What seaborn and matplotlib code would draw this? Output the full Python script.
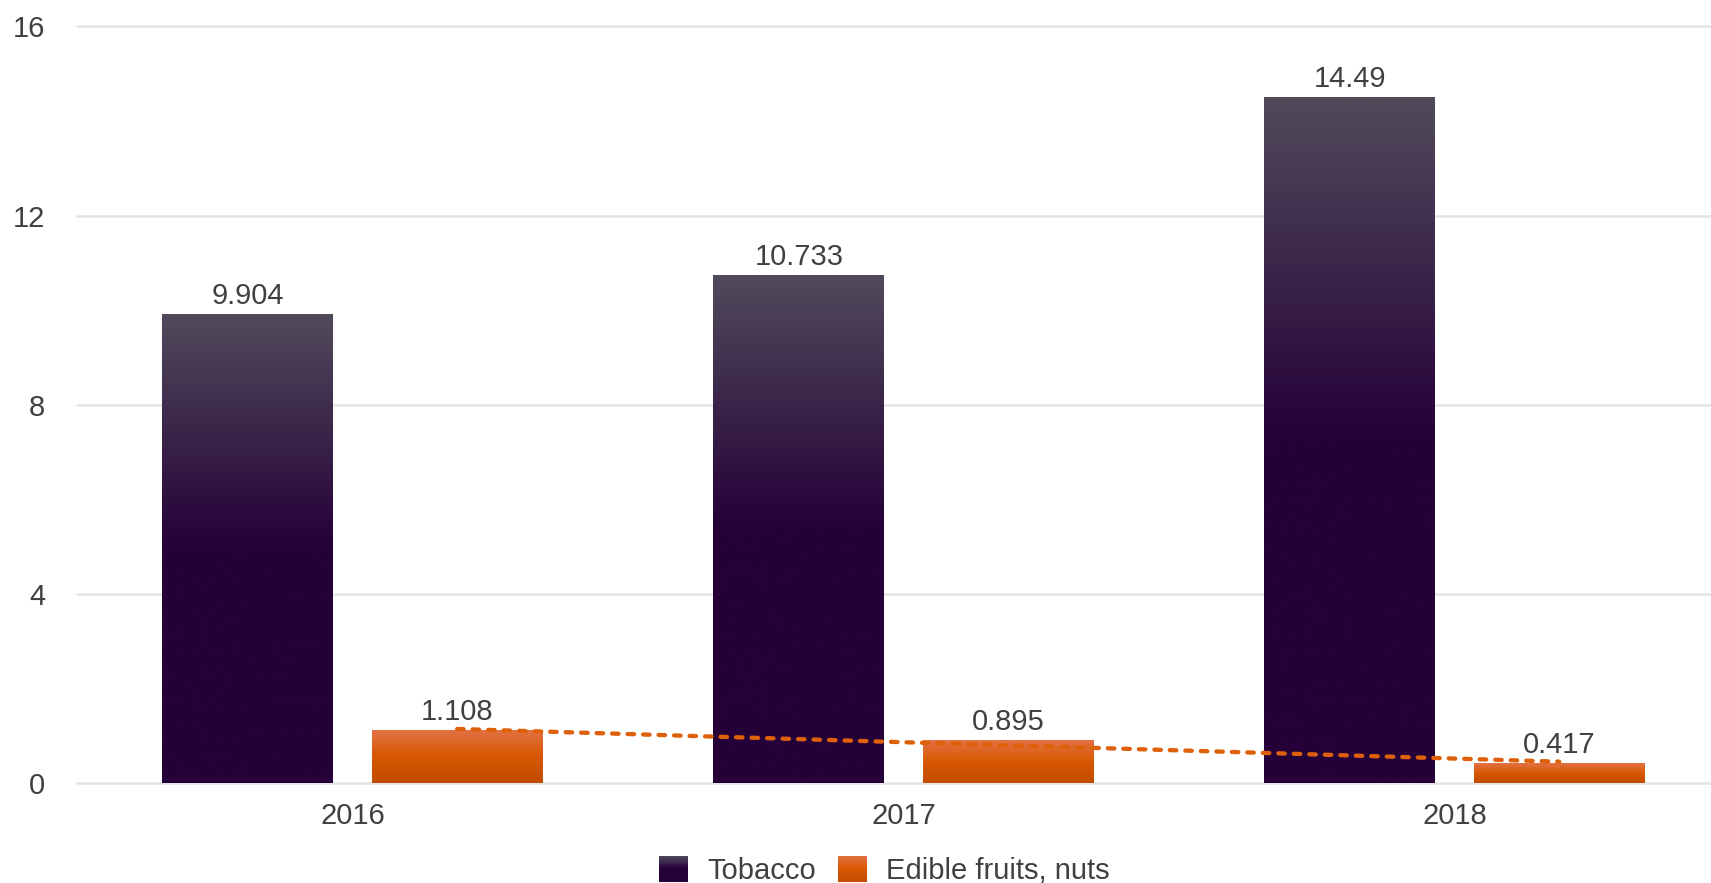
import numpy as np
import pandas as pd
import matplotlib
matplotlib.use("Agg")
import matplotlib.pyplot as plt
import seaborn as sns
from matplotlib.colors import LinearSegmentedColormap
from matplotlib.patches import Rectangle, Patch
from matplotlib.legend_handler import HandlerBase

years = ["2016", "2017", "2018"]
series_names = ["Tobacco", "Edible fruits, nuts"]
tobacco = [9.904, 10.733, 14.49]
edible_fruits = [1.108, 0.895, 0.417]
y_ticks = [0, 4, 8, 12, 16]

# vertical gradients, position 0 = top of the bar, 1 = bottom
tobacco_cmap = LinearSegmentedColormap.from_list(
    "tobacco", [(0.0, "#514a5b"), (0.5, "#250039"), (1.0, "#250039")])
fruit_cmap = LinearSegmentedColormap.from_list(
    "fruit", [(0.0, "#e27245"), (0.5, "#d85800"), (1.0, "#c14c00")])
base_colors = ["#250039", "#d85800"]
trend_color = "#de600a"
text_color = "#404040"
grid_color = "#e4e4e4"

sns.set_theme(style="white")
plt.rcParams["font.family"] = ["Liberation Sans", "DejaVu Sans"]

df = pd.DataFrame({
    "year": years * 2,
    "series": [series_names[0]] * 3 + [series_names[1]] * 3,
    "value": tobacco + edible_fruits,
})

fig = plt.figure(figsize=(17.11, 8.83), dpi=100)
ax = fig.add_axes([0.045, 0.1127, 0.9661, 0.8573])

sns.barplot(data=df, x="year", y="value", hue="series", palette=base_colors,
            width=0.76, dodge=True, saturation=1, legend=False, ax=ax,
            errorbar=None)

bar_width = 0.31
cmaps = [tobacco_cmap, fruit_cmap]
grad = [c(np.linspace(0, 1, 256))[:, None, :] for c in cmaps]
fruit_centers = []
for k, (container, vals) in enumerate(zip(ax.containers, [tobacco, edible_fruits])):
    for bar in container:
        cx = bar.get_x() + bar.get_width() / 2
        bar.set_x(cx - bar_width / 2)
        bar.set_width(bar_width)
        bar.set_facecolor("none")
        bar.set_edgecolor("none")
        h = bar.get_height()
        ax.imshow(grad[k], extent=[cx - bar_width / 2, cx + bar_width / 2, 0, h],
                  aspect="auto", origin="upper", zorder=2, interpolation="bilinear")
        if k == 1:
            fruit_centers.append(cx)
    ax.bar_label(container, labels=[f"{v:g}" for v in vals], padding=3.5,
                 fontsize=21, color=text_color, zorder=4)

# linear trend of the fruit series
sns.regplot(x=np.array(fruit_centers), y=np.array(edible_fruits), scatter=False,
            ci=None, truncate=True, ax=ax,
            line_kws=dict(color=trend_color, lw=3.1, dashes=(1.5, 2.1),
                          dash_capstyle="round", zorder=5))

ax.set_xlim(-0.5, 2.5)
ax.set_ylim(0, 16)
ax.set_yticks(y_ticks)
ax.set_yticklabels([str(t) for t in y_ticks])
ax.set_xlabel("")
ax.set_ylabel("")
ax.grid(axis="y", color=grid_color, lw=1.8)
ax.grid(axis="x", visible=False)
ax.set_axisbelow(True)
for line in ax.get_ygridlines():
    line.set_clip_on(False)
for s in ax.spines.values():
    s.set_visible(False)
ax.tick_params(axis="y", length=0, pad=23, labelsize=21, labelcolor=text_color)
ax.tick_params(axis="x", length=0, pad=13, labelsize=21, labelcolor=text_color)


class GradientHandler(HandlerBase):
    def __init__(self, cmap, steps=30):
        super().__init__()
        self.cmap = cmap
        self.steps = steps

    def create_artists(self, legend, orig_handle, xdescent, ydescent,
                       width, height, fontsize, trans):
        artists = []
        for i in range(self.steps):
            color = self.cmap(1 - (i + 0.5) / self.steps)
            r = Rectangle((-xdescent, -ydescent + height * i / self.steps),
                          width, height / self.steps * 1.08,
                          facecolor=color, edgecolor="none", transform=trans)
            artists.append(r)
        return artists


handles = [Patch(label=n) for n in series_names]
fig.legend(handles=handles, labels=series_names,
           handler_map={handles[0]: GradientHandler(tobacco_cmap),
                        handles[1]: GradientHandler(fruit_cmap)},
           loc="center", bbox_to_anchor=(0.517, 0.0145), ncol=2, frameon=False,
           fontsize=21, labelcolor=text_color, handlelength=1.0,
           handleheight=1.0, handletextpad=0.65, columnspacing=0.76,
           borderpad=0, borderaxespad=0)

fig.savefig("out.png", dpi=100)
